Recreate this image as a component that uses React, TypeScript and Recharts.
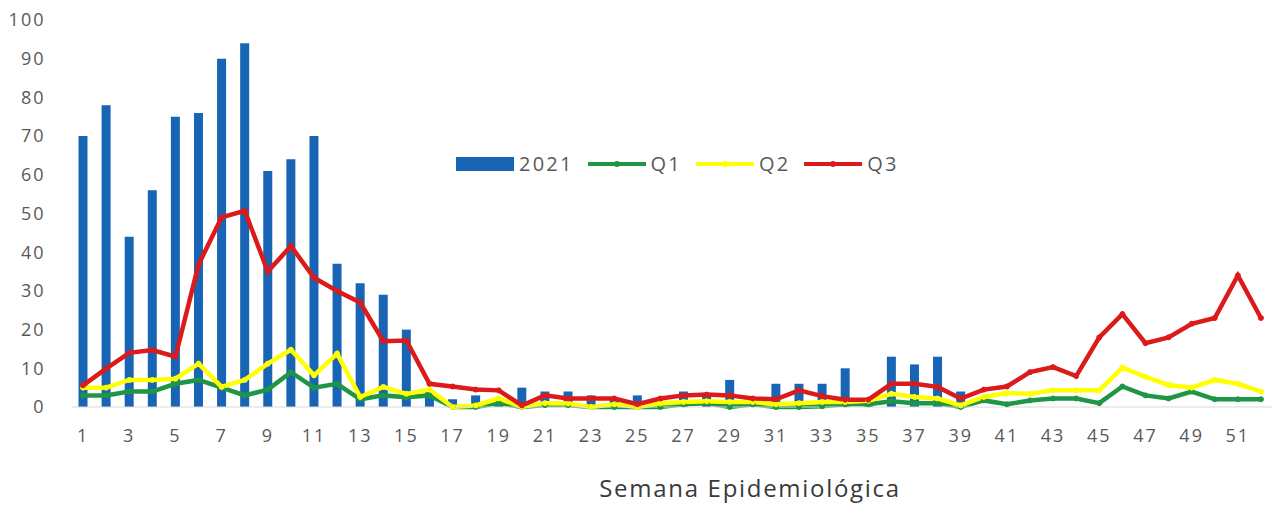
import {
  ComposedChart,
  Bar,
  Line,
  XAxis,
  YAxis,
  Legend,
} from "recharts";

const weeks = [
  "1", "2", "3", "4", "5", "6", "7", "8", "9", "10", "11", "12", "13",
  "14", "15", "16", "17", "18", "19", "20", "21", "22", "23", "24", "25", "26",
  "27", "28", "29", "30", "31", "32", "33", "34", "35", "36", "37", "38", "39",
  "40", "41", "42", "43", "44", "45", "46", "47", "48", "49", "50", "51", "52",
];

// casos 2021 (barras)
const cases2021 = [
  70, 78, 44, 56, 75, 76, 90, 94, 61, 64, 70, 37, 32, 29, 20, 4, 2, 3, 2, 5,
  4, 4, 3, 2, 3, 1, 4, 3, 7, 2, 6, 6, 6, 10, 2, 13, 11, 13, 4, 0, 0, 0, 0, 0,
  0, 0, 0, 0, 0, 0, 0, 0,
];

// canal endémico
const q1 = [
  3, 3, 4, 4, 6, 7, 5, 3, 4.5, 9, 5, 6, 2, 3, 2.5, 3, 0, 0, 1, 0, 0.5, 0.5, 0,
  0, 0, 0, 0.7, 1, 0, 0.7, 0, 0, 0.2, 0.7, 0.7, 1.5, 1, 1, 0, 1.7, 0.7, 1.7,
  2.2, 2.2, 1, 5.3, 3, 2.2, 4, 2, 2, 2,
];
const q2 = [
  5, 5, 7, 7, 7.3, 11.2, 5.2, 7, 11.2, 14.8, 8.2, 13.8, 2.6, 5.2, 3.4, 4.5, 0,
  0.4, 2.2, 0, 1, 0.9, 0, 0.7, 0, 0.9, 1.3, 1.5, 1.3, 1.3, 0.7, 1, 1.3, 1.3,
  1.6, 3.4, 2.6, 2.2, 0.4, 2.6, 3.6, 3.4, 4.3, 4.3, 4.3, 10.2, 7.8, 5.7, 5, 7,
  6, 4,
];
const q3 = [
  5.6, 9.9, 14, 14.7, 13, 36.8, 49, 50.7, 35, 41.6, 33.4, 30, 27, 17, 17.2, 6,
  5.3, 4.5, 4.3, 0.4, 3, 2.2, 2.2, 2.2, 0.7, 2.2, 3, 3.2, 3, 2.2, 2, 4.3, 2.8,
  1.9, 1.9, 6, 6, 5.2, 2.2, 4.5, 5.3, 9, 10.3, 8, 18, 24, 16.5, 18, 21.5, 23,
  34, 23,
];

const yTicks = [0, 10, 20, 30, 40, 50, 60, 70, 80, 90, 100];

const BLUE = "#1765B4";
const GREEN = "#1E9645";
const YELLOW = "#FFFF00";
const RED = "#DC1A1A";
const TEXT = "#595959";
const FONT = "'Open Sans', sans-serif";

const data = weeks.map((w, i) => ({
  week: w,
  c2021: cases2021[i],
  q1: q1[i],
  q2: q2[i],
  q3: q3[i],
}));

const legendItems = [
  { name: "2021", color: BLUE, kind: "bar" },
  { name: "Q1", color: GREEN, kind: "line" },
  { name: "Q2", color: YELLOW, kind: "line" },
  { name: "Q3", color: RED, kind: "line" },
];

const LegendContent = () => (
  <div style={{ display: "flex", alignItems: "center", fontFamily: FONT }}>
    {legendItems.map((it) => (
      <div
        key={it.name}
        style={{ display: "flex", alignItems: "center", marginRight: 14 }}
      >
        <svg width={58} height={14}>
          {it.kind === "bar" ? (
            <rect x={0} y={0} width={58} height={14} fill={it.color} />
          ) : (
            <>
              <line x1={0} y1={7} x2={58} y2={7} stroke={it.color} strokeWidth={4} />
              <circle cx={29} cy={7} r={3} fill={it.color} />
            </>
          )}
        </svg>
        <span
          style={{
            marginLeft: 5,
            fontSize: 20,
            letterSpacing: 2.2,
            color: TEXT,
          }}
        >
          {it.name}
        </span>
      </div>
    ))}
  </div>
);

export default function App() {
  return (
    <div style={{ position: "absolute", left: 0, top: 0, background: "#fff" }}>
      <ComposedChart
        width={1274}
        height={509}
        data={data}
        margin={{ top: 20, right: 1.5, left: 0, bottom: 0 }}
      >
        <XAxis
          dataKey="week"
          interval={1}
          tickLine={false}
          axisLine={{ stroke: "#d9d9d9" }}
          tickMargin={16}
          height={102}
          tick={{ fill: TEXT, fontSize: 18, fontFamily: FONT, letterSpacing: 2 }}
          label={{
            value: "Semana Epidemiológica",
            position: "insideBottom",
            offset: 12,
            dx: 78,
            fill: "#3a3a3a",
            fontSize: 24,
            fontFamily: FONT,
            letterSpacing: 1.7,
          }}
        />
        <YAxis
          width={71.5}
          domain={[0, 100]}
          ticks={yTicks}
          axisLine={false}
          tickLine={false}
          tickMargin={20}
          tick={{ fill: TEXT, fontSize: 18, fontFamily: FONT, letterSpacing: 2 }}
        />
        <Legend
          layout="horizontal"
          verticalAlign="middle"
          align="center"
          content={<LegendContent />}
          wrapperStyle={{ top: 150, left: 456, width: "auto" }}
        />
        <Bar dataKey="c2021" name="2021" fill={BLUE} barSize={9} isAnimationActive={false} />
        <Line
          type="linear"
          dataKey="q1"
          name="Q1"
          stroke={GREEN}
          strokeWidth={4.5}
          dot={{ r: 2.5, fill: GREEN, stroke: GREEN, strokeWidth: 1 }}
          isAnimationActive={false}
        />
        <Line
          type="linear"
          dataKey="q2"
          name="Q2"
          stroke={YELLOW}
          strokeWidth={4.5}
          dot={{ r: 2.5, fill: YELLOW, stroke: YELLOW, strokeWidth: 1 }}
          isAnimationActive={false}
        />
        <Line
          type="linear"
          dataKey="q3"
          name="Q3"
          stroke={RED}
          strokeWidth={4.5}
          dot={{ r: 2.5, fill: RED, stroke: RED, strokeWidth: 1 }}
          isAnimationActive={false}
        />
      </ComposedChart>
    </div>
  );
}
